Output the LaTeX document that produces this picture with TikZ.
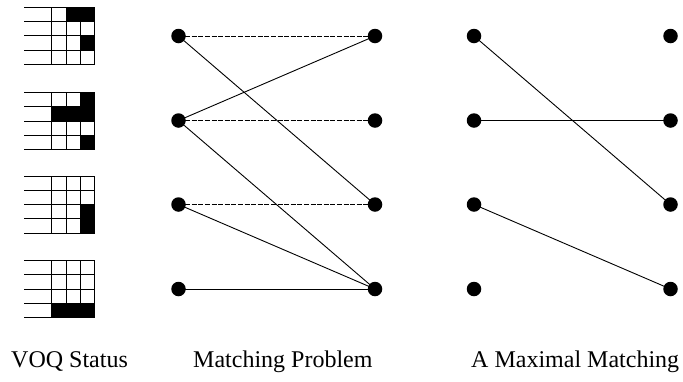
\documentclass[tikz,border=0pt]{standalone}
\usepackage{fontspec}
\setmainfont{Liberation Serif}
\begin{document}
\begin{tikzpicture}[x=1pt,y=-1pt,
  vertex/.style={circle,fill=black,draw=none,minimum size=14.5pt,inner sep=0pt},
  edge/.style={line width=0.9pt},
  request/.style={edge,dash pattern=on 5pt off 1.6pt},
  grid line/.style={line width=1pt},
  caption/.style={anchor=base west,inner sep=0pt,font=\fontsize{24}{29}\selectfont}]
\useasboundingbox (0,0) rectangle (683,381);

% VOQ occupancy grids: one per input, one row per output queue
\newcommand{\voqgrid}[2]{%
  \begin{scope}[shift={(24,#1)}]
    #2
    \foreach \r in {0,1,2,3,4} \draw[grid line] (0,\r*14.2) -- (70.5,\r*14.2);
    \foreach \c in {27.9,42.1,56.3,70.5} \draw[grid line] (\c,0) -- (\c,56.8);
  \end{scope}}
\newcommand{\cell}[2]{\fill (27.9+#2*14.2,#1*14.2) rectangle ++(14.2,14.2);}

\voqgrid{7.4}{\cell{0}{1}\cell{0}{2}\cell{2}{2}}
\voqgrid{92.6}{\cell{0}{2}\cell{1}{0}\cell{1}{1}\cell{1}{2}\cell{3}{2}}
\voqgrid{176.2}{\cell{2}{2}\cell{3}{2}}
\voqgrid{260.6}{\cell{3}{0}\cell{3}{1}\cell{3}{2}}

% bipartite request graph
\foreach \i/\y in {1/36,2/120.5,3/204.5,4/289} {
  \node[vertex] (a\i) at (178.5,\y) {};
  \node[vertex] (b\i) at (375,\y) {};
  \node[vertex] (c\i) at (474,\y) {};
  \node[vertex] (d\i) at (670.5,\y) {};
}
\draw[request] (a1.center) -- (b1.center);
\draw[edge] (a1.center) -- (b3.center);
\draw[edge] (a2.center) -- (b1.center);
\draw[request] (a2.center) -- (b2.center);
\draw[edge] (a2.center) -- (b4.center);
\draw[request] (a3.center) -- (b3.center);
\draw[edge] (a3.center) -- (b4.center);
\draw[edge] (a4.center) -- (b4.center);

% maximal matching
\draw[edge] (c1.center) -- (d3.center);
\draw[edge] (c2.center) -- (d2.center);
\draw[edge] (c3.center) -- (d4.center);

\node[caption] (t1) at (11,367) {VOQ Status};
\node[caption] (t2) at (193,367) {Matching Problem};
\node[caption] (t3) at (471,367) {A Maximal Matching};
\end{tikzpicture}
\end{document}
